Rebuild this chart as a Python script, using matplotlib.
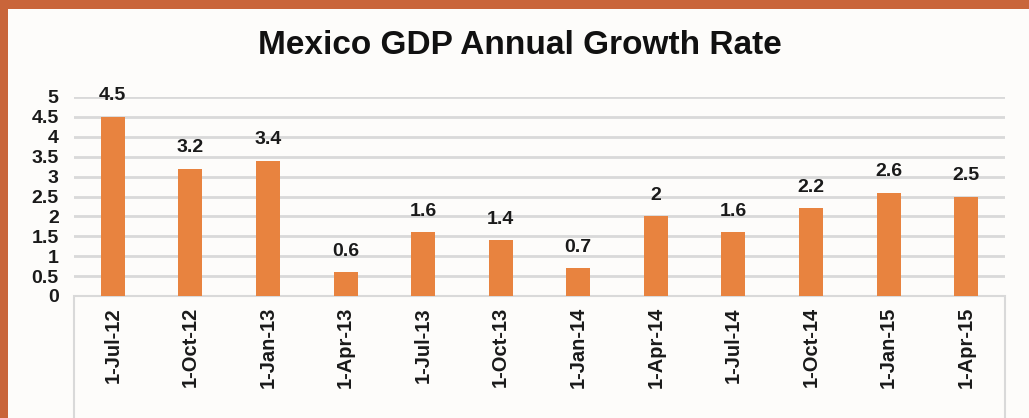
import matplotlib.pyplot as plt
from matplotlib.patches import Rectangle

quarters = ["1-Jul-12", "1-Oct-12", "1-Jan-13", "1-Apr-13", "1-Jul-13", "1-Oct-13",
            "1-Jan-14", "1-Apr-14", "1-Jul-14", "1-Oct-14", "1-Jan-15", "1-Apr-15"]
growth = [4.5, 3.2, 3.4, 0.6, 1.6, 1.4, 0.7, 2, 1.6, 2.2, 2.6, 2.5]
yticks = [0, 0.5, 1, 1.5, 2, 2.5, 3, 3.5, 4, 4.5, 5]

plt.rcParams["font.family"] = ["Liberation Sans", "DejaVu Sans"]

fig = plt.figure(figsize=(10.29, 4.18), dpi=100)
fig.patch.set_facecolor("#C9653A")

# white card over the orange background
fig.patches.append(Rectangle((8 / 1029, 0), 1.0, 1 - 9 / 418, transform=fig.transFigure,
                             facecolor="#FDFCFA", edgecolor="none", zorder=0))

# box around the category labels
fig.patches.append(Rectangle((74 / 1029, -0.05), 931 / 1029, 122 / 418 + 0.05,
                             transform=fig.transFigure, facecolor="none",
                             edgecolor="#D9D9D9", linewidth=1.5, zorder=1))

ax = fig.add_axes([74 / 1029, 122 / 418, 931 / 1029, 199 / 418])
ax.set_zorder(3)
ax.set_facecolor("none")

x = range(len(quarters))
ax.bar(x, growth, width=0.31, color="#E8833F", zorder=2)
for i, v in enumerate(growth):
    ax.annotate(f"{v:g}", (i, v), xytext=(0, 9), textcoords="offset points",
                ha="center", va="bottom", fontsize=14, fontweight="bold", color="#1a1a1a")

ax.set_xlim(-0.5, len(quarters) - 0.5)
ax.set_ylim(0, 5)
ax.set_yticks(yticks)
ax.set_yticklabels([f"{t:g}" for t in yticks], fontsize=14, fontweight="bold", color="#1a1a1a")
ax.set_xticks(list(x))
ax.set_xticklabels(quarters, rotation=90, fontsize=14.5, fontweight="bold", color="#1a1a1a")
ax.tick_params(axis="y", length=0, pad=11)
ax.tick_params(axis="x", length=0, pad=8)
ax.grid(axis="y", color="#D9D9D9", linewidth=2, zorder=0)
for s in ax.spines.values():
    s.set_visible(False)

fig.text(520 / 1029, 1 - 46 / 418, "Mexico GDP Annual Growth Rate", ha="center", va="center",
         fontsize=24, fontweight="bold", color="#111111")

fig.savefig("out.png", dpi=100, facecolor=fig.get_facecolor())
